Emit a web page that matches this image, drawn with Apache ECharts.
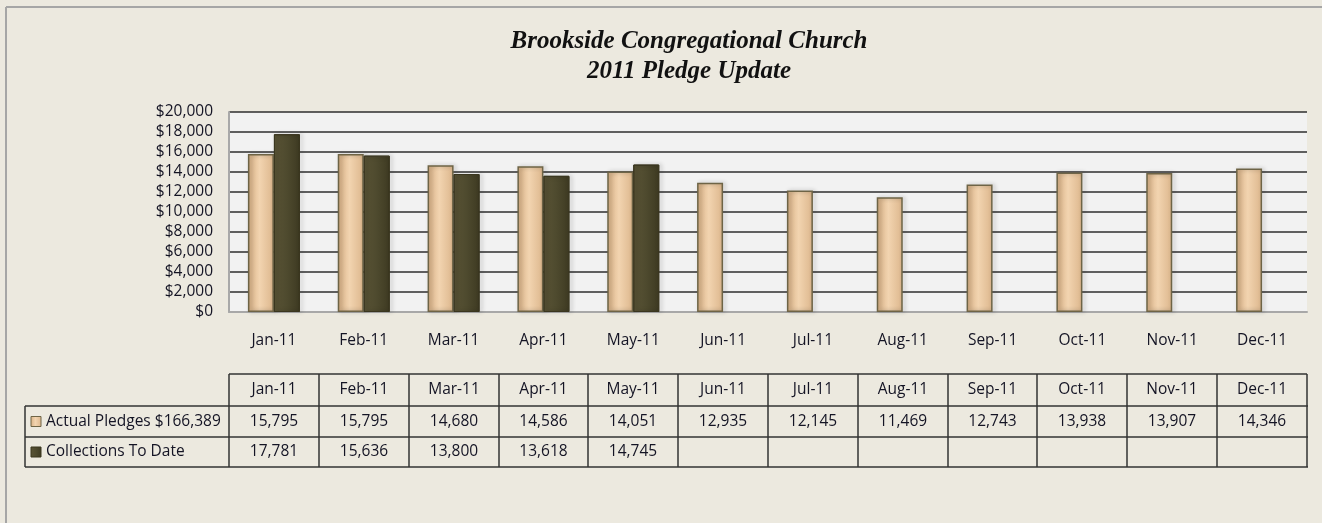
<!DOCTYPE html>
<html>
<head>
<meta charset="utf-8">
<script src="https://cdn.jsdelivr.net/npm/echarts@6/dist/echarts.min.js"></script>
<style>
  html, body { margin: 0; padding: 0; background: #ECE9DF; }
  #main { width: 1322px; height: 523px; }
</style>
</head>
<body>
<div id="main"></div>
<script>
var months = ["Jan-11", "Feb-11", "Mar-11", "Apr-11", "May-11", "Jun-11", "Jul-11", "Aug-11", "Sep-11", "Oct-11", "Nov-11", "Dec-11"];
var pledges = [15795, 15795, 14680, 14586, 14051, 12935, 12145, 11469, 12743, 13938, 13907, 14346];
var collections = [17781, 15636, 13800, 13618, 14745, null, null, null, null, null, null, null];
var seriesNames = ["Actual Pledges $166,389", "Collections To Date"];

var chart = echarts.init(document.getElementById("main"));
var font = "'Open Sans', Lato, sans-serif";
var fontSize = 15.5;
var textColor = "#141424";

var pledgeFill = new echarts.graphic.LinearGradient(0, 0, 1, 0, [
    { offset: 0, color: "#d8b084" },
    { offset: 0.45, color: "#f2d4b0" },
    { offset: 1, color: "#dcb68c" }
]);
var collFill = new echarts.graphic.LinearGradient(0, 0, 1, 0, [
    { offset: 0, color: "#5a5436" },
    { offset: 0.5, color: "#4e4a2e" },
    { offset: 1, color: "#3e3a22" }
]);

function fmt(v) {
    return v == null ? "" : v.toLocaleString("en-US");
}

var option = {
    backgroundColor: "#ECE9DF",
    animation: false,
    title: {
        text: "Brookside Congregational Church\n2011 Pledge Update",
        left: 684,
        top: 22,
        textAlign: "center",
        textStyle: {
            fontFamily: "'Liberation Serif', 'Times New Roman', serif",
            fontStyle: "italic",
            fontWeight: "bold",
            fontSize: 25,
            lineHeight: 30,
            color: "#111"
        }
    },
    grid: { left: 229, right: 15, top: 112, bottom: 211 },
    xAxis: {
        type: "category",
        data: months,
        axisLine: { lineStyle: { color: "#a8a8a8", width: 2 } },
        axisTick: { show: false },
        axisLabel: { margin: 21, fontFamily: font, fontSize: fontSize, color: textColor }
    },
    yAxis: {
        type: "value",
        min: 0,
        max: 20000,
        interval: 2000,
        axisLine: { show: true, lineStyle: { color: "#a8a8a8", width: 2 } },
        axisTick: { show: false },
        axisLabel: {
            margin: 16,
            fontFamily: font,
            fontSize: fontSize,
            color: textColor,
            formatter: function (v) { return "$" + v.toLocaleString("en-US"); }
        },
        splitLine: { lineStyle: { color: "#2e2e2e", width: 1.5 } },
        splitArea: { show: true, areaStyle: { color: ["#f2f2f2", "#f2f2f2"] } }
    },
    series: [{
        name: seriesNames[0],
        type: "bar",
        data: pledges,
        barWidth: 26,
        barGap: "0%",
        itemStyle: {
            color: pledgeFill,
            borderColor: "#6e6446",
            borderWidth: 1.5,
            shadowColor: "rgba(0,0,0,0.3)",
            shadowBlur: 4,
            shadowOffsetX: 2
        }
    }, {
        name: seriesNames[1],
        type: "bar",
        data: collections,
        barWidth: 26,
        itemStyle: {
            color: collFill,
            borderColor: "#3a361f",
            borderWidth: 1,
            shadowColor: "rgba(0,0,0,0.3)",
            shadowBlur: 4,
            shadowOffsetX: 2
        }
    }]
};
chart.setOption(option);

// data table below the chart, aligned with the category columns
var tableLeft = 25, tableRight = 1308;
var rowTops = [374, 406, 437, 467];
var step = chart.convertToPixel({ xAxisIndex: 0 }, 1) - chart.convertToPixel({ xAxisIndex: 0 }, 0);
var colEdges = [];
for (var i = 0; i <= months.length; i++) {
    colEdges.push(Math.round(chart.convertToPixel({ xAxisIndex: 0 }, 0) - step / 2 + i * step));
}
var lineStyle = { stroke: "#333", lineWidth: 1.5 };
var els = [];
function line(x1, y1, x2, y2) {
    els.push({ type: "line", shape: { x1: x1, y1: y1, x2: x2, y2: y2 }, style: lineStyle, silent: true });
}
function cellText(txt, x, y, align) {
    els.push({
        type: "text", x: x, y: y,
        style: { text: txt, fill: textColor, font: fontSize + "px " + font, align: align || "center", verticalAlign: "middle" },
        silent: true
    });
}
// frame of the picture (top and left edges)
els.push({ type: "line", shape: { x1: 6, y1: 7, x2: 1322, y2: 7 }, style: { stroke: "#a6a6a6", lineWidth: 2 } });
els.push({ type: "line", shape: { x1: 6, y1: 7, x2: 6, y2: 523 }, style: { stroke: "#a6a6a6", lineWidth: 2 } });

// horizontal lines
line(colEdges[0], rowTops[0], colEdges[12], rowTops[0]);
for (var r = 1; r < rowTops.length; r++) line(tableLeft, rowTops[r], tableRight, rowTops[r]);
// vertical lines
line(tableLeft, rowTops[1], tableLeft, rowTops[3]);
for (var c = 0; c < colEdges.length; c++) line(colEdges[c], rowTops[0], colEdges[c], rowTops[3]);

var rows = [pledges, collections];
for (var k = 0; k < months.length; k++) {
    var cx = (colEdges[k] + colEdges[k + 1]) / 2;
    cellText(months[k], cx, (rowTops[0] + rowTops[1]) / 2);
    for (var r2 = 0; r2 < rows.length; r2++) {
        cellText(fmt(rows[r2][k]), cx, (rowTops[r2 + 1] + rowTops[r2 + 2]) / 2);
    }
}
var keyFills = [pledgeFill, collFill];
var keyBorders = ["#6e6446", "#3a361f"];
for (var s = 0; s < seriesNames.length; s++) {
    var cy = (rowTops[s + 1] + rowTops[s + 2]) / 2;
    els.push({ type: "rect", shape: { x: 31, y: cy - 5, width: 10, height: 10 }, style: { fill: keyFills[s], stroke: keyBorders[s], lineWidth: 1 } });
    cellText(seriesNames[s], 46, cy, "left");
}
chart.setOption({ graphic: els });
</script>
</body>
</html>
